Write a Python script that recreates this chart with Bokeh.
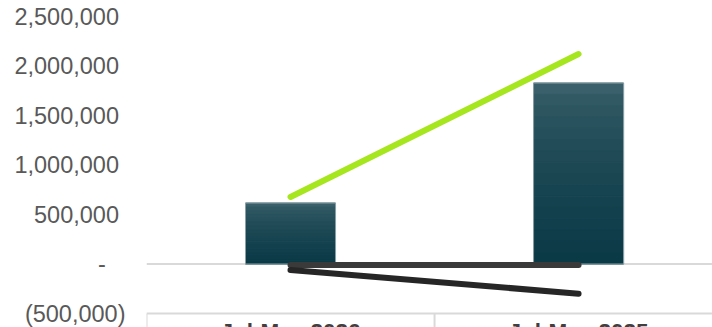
from bokeh.plotting import figure
from bokeh.models import Range1d, FixedTicker, Span
from bokeh.embed import file_html
from bokeh.resources import INLINE

# ---- data ----
categories = ["Jul-May 2026", "Jul-May 2025"]
bar_values = [616000, 1828000]
green_line = [677000, 2121000]
dark_flat_line = [-10000, -10000]
dark_slope_line = [-60000, -300000]
y_ticks = [-500000, 0, 500000, 1000000, 1500000, 2000000, 2500000]

def acct(v):
    if v == 0:
        return "-\u00a0\u00a0\u00a0"
    if v < 0:
        return "({:,})".format(-v)
    return "{:,}\u00a0".format(v)

xs = [i + 0.5 for i in range(len(categories))]
y_lo = y_ticks[0] - 141414   # room below the last tick for the label table
y_hi = y_ticks[-1]

p = figure(width=712, height=327, output_backend="svg", toolbar_location=None,
           x_range=Range1d(0, 1.965), y_range=Range1d(y_lo, y_hi),
           min_border_left=146, min_border_right=0, min_border_top=16,
           min_border_bottom=0, x_axis_location=None)
p.outline_line_color = None
p.xgrid.grid_line_color = None
p.ygrid.grid_line_color = None
p.background_fill_color = "white"
p.border_fill_color = "white"

# zero line and table top line
p.add_layout(Span(location=0, dimension="width", line_color="#d9d9d9",
                  line_width=2, level="underlay"))
p.add_layout(Span(location=y_ticks[0], dimension="width", line_color="#d9d9d9",
                  line_width=2, level="underlay"))
bounds = list(range(len(categories) + 1))
p.segment(x0=bounds, y0=[y_ticks[0]] * len(bounds), x1=bounds,
          y1=[y_lo] * len(bounds), line_color="#d9d9d9", line_width=2)

# bars: vertical colour gradient imitation (slices)
n = 16
top_c = (0x3a, 0x60, 0x6b)
bot_c = (0x0b, 0x3a, 0x47)
bx, btop, bbot, bcol = [], [], [], []
for x, v in zip(xs, bar_values):
    for k in range(n):
        t = (k / (n - 1)) ** 0.6
        col = tuple(int(round(top_c[j] + (bot_c[j] - top_c[j]) * t)) for j in range(3))
        bx.append(x)
        btop.append(v * (1 - k / n))
        bbot.append(v * (1 - (k + 1) / n))
        bcol.append("#%02x%02x%02x" % col)
p.vbar(x=bx, top=btop, bottom=bbot, width=0.3125, fill_color=bcol,
       line_color=bcol, line_width=1)
p.vbar(x=xs, top=bar_values, bottom=0, width=0.3125, fill_color=None,
       line_color="#8aa0a6", line_width=1)

# lines
p.line(xs, dark_flat_line, line_color="#3a3a3a", line_width=6, line_cap="round")
p.line(xs, dark_slope_line, line_color="#262626", line_width=6, line_cap="round")
p.line(xs, green_line, line_color="#a6e61e", line_width=6, line_cap="round")

# category labels (table cells)
p.text(x=xs, y=[y_ticks[0]] * len(xs), text=categories, y_offset=5,
       text_align="center", text_baseline="top",
       text_font={"value": "Liberation Sans"}, text_font_style="bold",
       text_font_size={"value": "22.5px"}, text_color="#404040")

# y axis
yax = p.yaxis[0]
yax.ticker = FixedTicker(ticks=y_ticks)
yax.major_label_overrides = {t: acct(t) for t in y_ticks}
yax.axis_line_color = None
yax.major_tick_line_color = None
yax.major_tick_out = 0
yax.major_tick_in = 0
yax.minor_tick_line_color = None
yax.major_label_text_font = "Liberation Sans"
yax.major_label_text_font_size = "23.5px"
yax.major_label_text_color = "#595959"
yax.major_label_standoff = 21

open("out.html", "w").write(file_html(p, INLINE))
